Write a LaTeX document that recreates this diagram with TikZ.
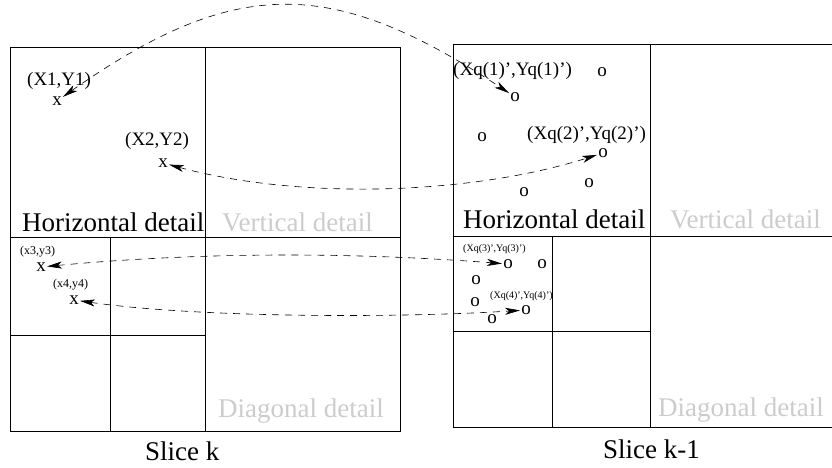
\documentclass[tikz,border=0pt]{standalone}
\usepackage{fontspec}
\setmainfont{Liberation Serif}
\usetikzlibrary{positioning, arrows.meta}
\definecolor{faint}{gray}{0.80}
\tikzset{
        x=1pt, y=-1pt, % pixel-like units, y grows downwards
        bandline/.style={line width=0.8pt}, % the sub-band boxes
        link/.style={{Stealth[length=15pt, width=7pt, inset=4pt]}-{Stealth[length=15pt, width=7pt, inset=4pt]}, dash pattern=on 7pt off 6pt, line width=0.6pt}, % point correspondences
        band/.style={anchor=base west, inner sep=0pt, font=\fontsize{27}{30}\selectfont}, % sub-band names
        faded/.style={band, text=faint}, % washed out sub-band names
        coordlabel/.style={anchor=base west, inner sep=0pt, font=\fontsize{19}{22}\selectfont}, % big point labels
        smalllabel/.style={anchor=base west, inner sep=0pt, font=\fontsize{12}{14}\selectfont}, % small point labels
        spot/.style={inner sep=1pt, font=\fontsize{19}{22}\selectfont}, % x and o marks
        }

\begin{document}
\begin{tikzpicture}
        \useasboundingbox (0,0) rectangle (832,467);
        \clip (0,0) rectangle (832,467);
        % slice k
        \draw[bandline] (10,47) rectangle (400,431);
        \draw[bandline] (205,47) -- (205,431);
        \draw[bandline] (10,237) -- (400,237);
        \draw[bandline] (110,237) -- (110,431);
        \draw[bandline] (10,335) -- (205,335);
        % slice k-1
        \draw[bandline] (453,44) rectangle (843,427);
        \draw[bandline] (650,44) -- (650,427);
        \draw[bandline] (453,236) -- (843,236);
        \draw[bandline] (552,236) -- (552,427);
        \draw[bandline] (453,331) -- (650,331);

        \node[band] (HorK) at (22,231) {Horizontal detail};
        \node[faded] (VerK) at (222,231) {Vertical detail};
        \node[faded] (DiaK) at (218,417) {Diagonal detail};
        \node[band] (SliceK) at (145,460) {Slice k};
        \node[band] (HorKm) at (463,228) {Horizontal detail};
        \node[faded] (VerKm) at (670,228) {Vertical detail};
        \node[faded] (DiaKm) at (658,416) {Diagonal detail};
        \node[band] (SliceKm) at (603,458) {Slice k-1};

        % points of slice k
        \node[spot] (X1) at (57,101) {x};
        \node[spot] (X2) at (163,163) {x};
        \node[spot] (X3) at (41,267) {x};
        \node[spot] (X4) at (74,300) {x};
        \node[coordlabel] (LabX1) at (27,85) {(X1,Y1)};
        \node[coordlabel] (LabX2) at (125,145) {(X2,Y2)};
        \node[smalllabel] (LabX3) at (20,254) {(x3,y3)};
        \node[smalllabel] (LabX4) at (53,287) {(x4,y4)};

        % points of slice k-1
        \node[spot] (Q1) at (515,97) {o};
        \node[spot] (Q2) at (603,153) {o};
        \node[spot] (Q3) at (508,264) {o};
        \node[spot] (Q4) at (526,310) {o};
        \node[spot] (O1) at (602,72) {o};
        \node[spot] (O2) at (482,137) {o};
        \node[spot] (O3) at (589,183) {o};
        \node[spot] (O4) at (524,192) {o};
        \node[spot] (O5) at (542,264) {o};
        \node[spot] (O6) at (476,280) {o};
        \node[spot] (O7) at (475,302) {o};
        \node[spot] (O8) at (492,319) {o};
        \node[coordlabel] (LabQ1) at (453,75) {(Xq(1)',Yq(1)')};
        \node[coordlabel] (LabQ2) at (527,139) {(Xq(2)',Yq(2)')};
        \node[smalllabel, font=\fontsize{10}{12}\selectfont] (LabQ3) at (463,251) {(Xq(3)',Yq(3)')};
        \node[smalllabel, font=\fontsize{10}{12}\selectfont] (LabQ4) at (490,298) {(Xq(4)',Yq(4)')};

        % correspondences
        \draw[link] (X1) .. controls (235,-24) and (332,-24) .. (Q1);
        \draw[link] (X2) .. controls (300,200) and (470,195) .. (Q2);
        \draw[link] (X3) .. controls (200,252) and (350,252) .. (Q3);
        \draw[link] (X4) .. controls (200,318) and (400,318) .. (Q4);
\end{tikzpicture}
\end{document}
